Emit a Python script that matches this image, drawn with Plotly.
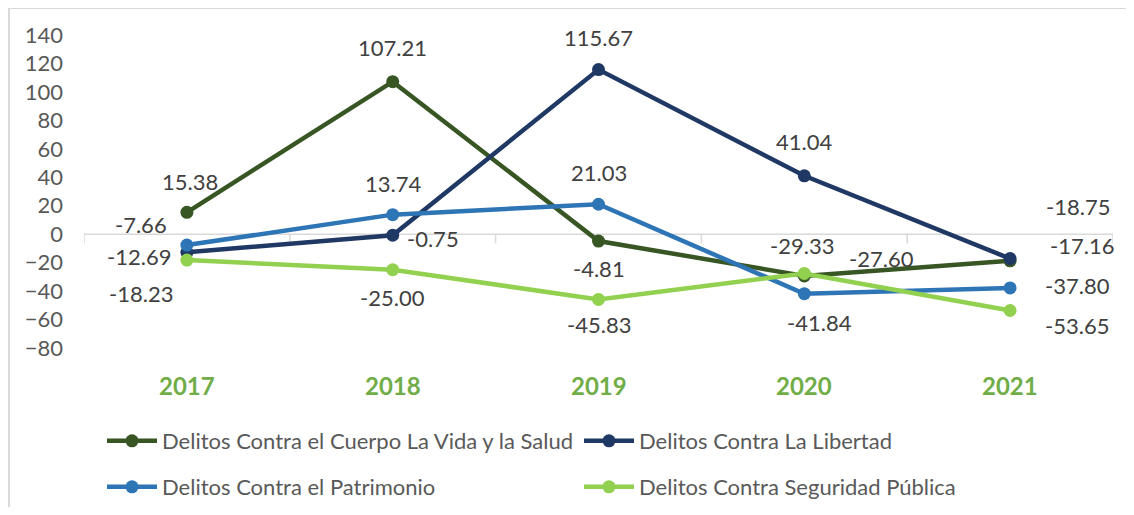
import plotly.graph_objects as go

years = ["2017", "2018", "2019", "2020", "2021"]

cuerpo = [15.38, 107.21, -4.81, -29.33, -18.75]
libertad = [-12.69, -0.75, 115.67, 41.04, -17.16]
patrimonio = [-7.66, 13.74, 21.03, -41.84, -37.80]
seguridad = [-18.23, -25.00, -45.83, -27.60, -53.65]

names = [
    "Delitos Contra el Cuerpo La Vida y la Salud",
    "Delitos Contra La Libertad",
    "Delitos Contra el Patrimonio",
    "Delitos Contra Seguridad Pública",
]
colors = ["#375623", "#203864", "#2E75B6", "#92D050"]

# label offsets in pixels (dx right, dy down), hand placed like the original
offsets = [
    [(3, -31), (0, -34), (0, 27), (-2, -30), (68, -54)],
    [(-48, 4), (40, 3), (0, -32), (0, -34), (72, -13)],
    [(-46, -21), (0, -31), (0, -32), (15, 29), (67, -2)],
    [(-46, 33), (0, 28), (0, 25), (77, -15), (67, 15)],
]

FONT = "Lato"
series = [cuerpo, libertad, patrimonio, seguridad]

fig = go.Figure()
for i, (vals, name, col) in enumerate(zip(series, names, colors)):
    fig.add_trace(go.Scatter(
        x=years, y=vals, name=name, mode="lines+markers",
        line=dict(color=col, width=4.5),
        marker=dict(color=col, size=13),
        legend="legend" if i < 2 else "legend2",
    ))

annotations = []
for vals, offs in zip(series, offsets):
    for k, (v, (dx, dy)) in enumerate(zip(vals, offs)):
        annotations.append(dict(
            x=k, y=v, xref="x", yref="y", text=f"{v:.2f}", showarrow=False,
            xshift=dx, yshift=-dy, font=dict(family=FONT, size=22, color="#404040"),
        ))

for k, yr in enumerate(years):
    annotations.append(dict(
        x=k, y=0, xref="x", yref="paper", yanchor="middle", yshift=-37,
        text=f"<b>{yr}</b>", showarrow=False,
        font=dict(family=FONT, size=24, color="#70AD47"),
    ))

# the page keeps an 8px body margin, so the figure is sized to fit inside it
W = 1029.0
H = 313.0
shapes = [dict(type="line", xref="x", yref="y", x0=-0.5, x1=4.5, y0=0, y1=0,
               line=dict(color="#D9D9D9", width=1.5), layer="below")]
for b in [-0.5, 0.5, 1.5, 2.5, 3.5, 4.5]:
    shapes.append(dict(type="line", xref="x", yref="y", x0=b, x1=b, y0=0, y1=-6.5,
                       line=dict(color="#D9D9D9", width=1.5), layer="below"))
# chart frame: only its left and top edges fall inside the picture
shapes.append(dict(type="line", xref="paper", yref="paper",
                   x0=(1 - 76) / W, x1=(1 - 76) / W, y0=(340 - 510) / H, y1=(340 + 1) / H,
                   line=dict(color="#D9D9D9", width=2)))
shapes.append(dict(type="line", xref="paper", yref="paper",
                   x0=(1 - 76) / W, x1=(1130 - 76) / W, y0=(340 + 0) / H, y1=(340 + 0) / H,
                   line=dict(color="#D9D9D9", width=2)))

legend_common = dict(
    orientation="h", xref="paper", yref="paper", xanchor="left", yanchor="middle",
    font=dict(family=FONT, size=22, color="#595959"), bgcolor="rgba(0,0,0,0)",
    entrywidth=412, entrywidthmode="pixels", itemwidth=50,
)

fig.update_layout(
    width=1118, height=499,
    margin=dict(l=76, r=13, t=27, b=159, autoexpand=False),
    paper_bgcolor="white", plot_bgcolor="white",
    font=dict(family=FONT),
    xaxis=dict(type="category", range=[-0.5, 4.5], showticklabels=False,
               showgrid=False, zeroline=False, showline=False, ticks=""),
    yaxis=dict(range=[-80, 140], dtick=20, showgrid=False, zeroline=False,
               showline=False, tickfont=dict(family=FONT, size=22, color="#595959"),
               ticks="", ticklabelstandoff=20),
    legend=dict(x=(94 - 76) / W, y=(340 - 433) / H, **legend_common),
    legend2=dict(x=(94 - 76) / W, y=(340 - 479) / H, **legend_common),
    annotations=annotations,
    shapes=shapes,
)

fig.write_html("out.html")
